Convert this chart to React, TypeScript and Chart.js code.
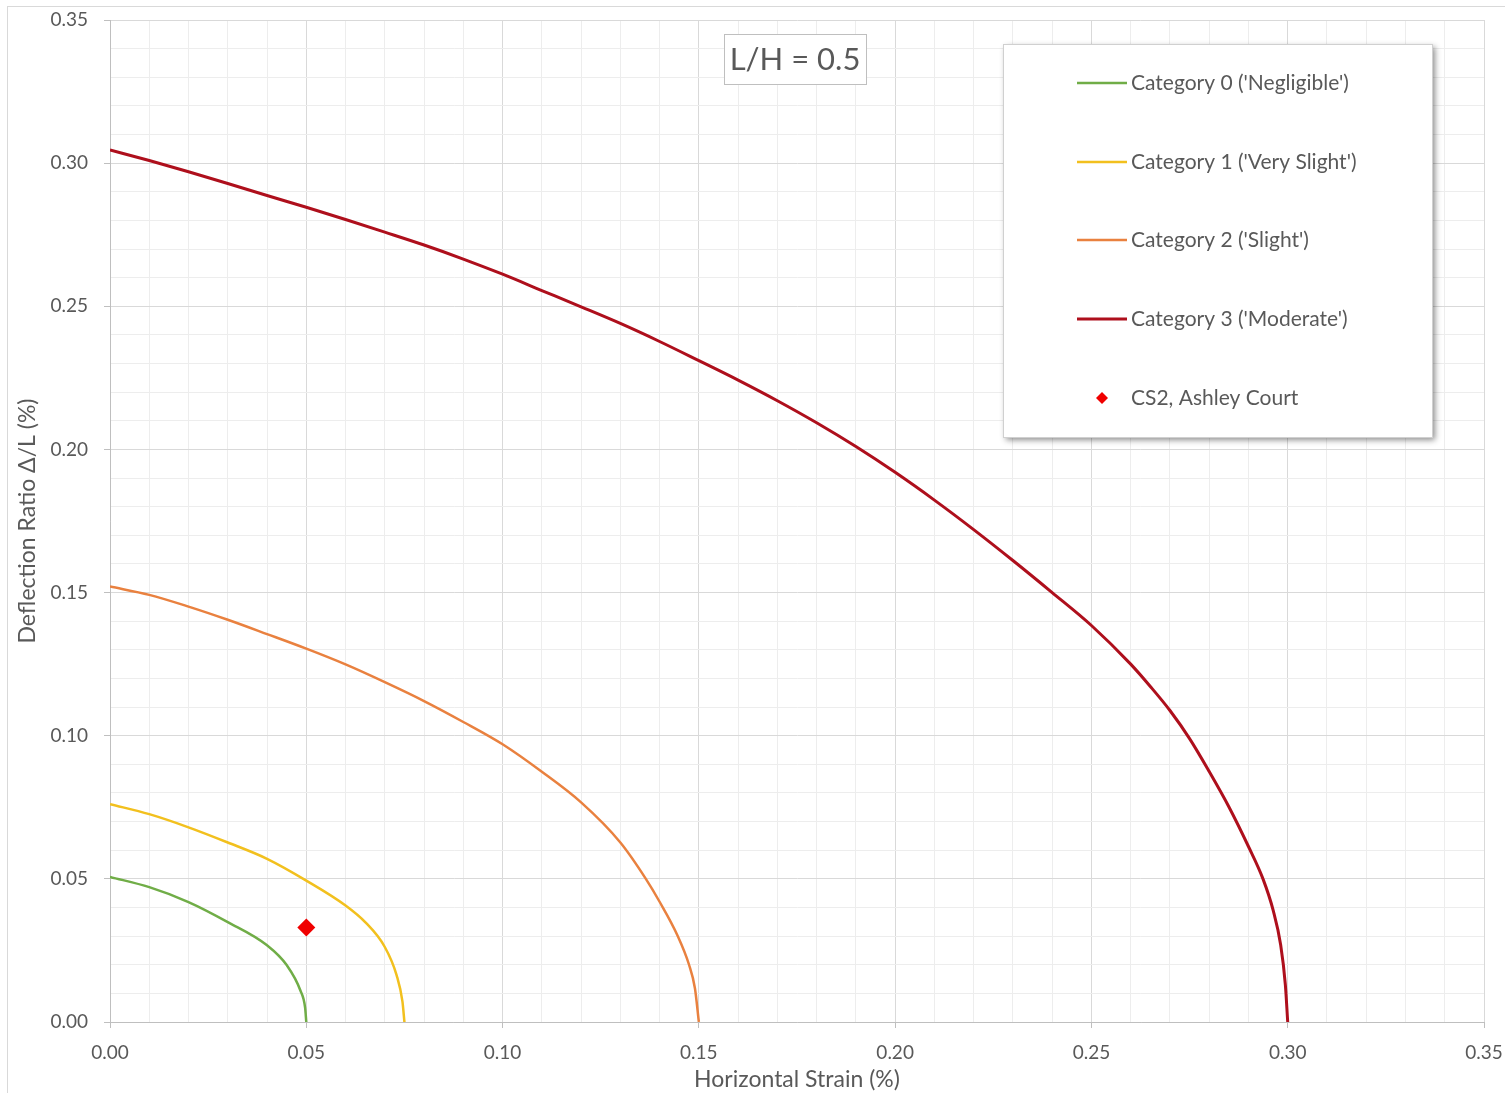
import React, { useEffect, useRef } from "react";
import { Chart, registerables } from "chart.js";

Chart.register(...registerables);

// ---- Data ----
const cat0X = [0, 0.01, 0.02, 0.03, 0.04, 0.045, 0.0485, 0.0497, 0.05];
const cat0Y = [0.0507, 0.0471, 0.0419, 0.0349, 0.0268, 0.0199, 0.011, 0.005, 0];

const cat1X = [0, 0.01, 0.02, 0.03, 0.04, 0.05, 0.06, 0.065, 0.07, 0.073, 0.0745, 0.075];
const cat1Y = [0.0761, 0.0726, 0.068, 0.0627, 0.057, 0.0494, 0.0407, 0.0349, 0.0262, 0.0164, 0.0071, 0];

const cat2X = [0, 0.01, 0.02, 0.03, 0.04, 0.05, 0.06, 0.07, 0.08, 0.09, 0.1, 0.11, 0.12, 0.13, 0.1365, 0.14, 0.1445, 0.1475, 0.149, 0.15];
const cat2Y = [0.1521, 0.1492, 0.1451, 0.1405, 0.1355, 0.1304, 0.1249, 0.1187, 0.1121, 0.1048, 0.097, 0.0874, 0.0767, 0.0627, 0.05, 0.042, 0.0304, 0.02, 0.0118, 0];

const cat3X = [0, 0.01, 0.02, 0.03, 0.04, 0.05, 0.06, 0.07, 0.08, 0.09, 0.1, 0.11, 0.12, 0.13, 0.14, 0.15, 0.16, 0.17, 0.18, 0.19, 0.2, 0.21, 0.22, 0.23, 0.24, 0.25, 0.26, 0.265, 0.27, 0.275, 0.28, 0.285, 0.29, 0.2937, 0.2963, 0.2982, 0.2994, 0.3];
const cat3Y = [0.3046, 0.3009, 0.297, 0.2929, 0.2887, 0.2846, 0.2803, 0.2759, 0.2714, 0.2665, 0.2612, 0.2555, 0.2498, 0.244, 0.2377, 0.231, 0.2242, 0.217, 0.2093, 0.201, 0.192, 0.1823, 0.172, 0.1612, 0.15, 0.1385, 0.125, 0.1172, 0.1088, 0.099, 0.0875, 0.0752, 0.0613, 0.05, 0.039, 0.027, 0.013, 0];

const siteX = [0.05];
const siteY = [0.033];

const seriesLabels = [
  "Category 0 ('Negligible')",
  "Category 1 ('Very Slight')",
  "Category 2 ('Slight')",
  "Category 3 ('Moderate')",
  "CS2, Ashley Court",
];
const seriesColors = ["#70AD47", "#F2C01E", "#E9813F", "#AE0F1C", "#F00000"];

const annotationText = "L/H = 0.5";
const xTitle = "Horizontal Strain (%)";
const yTitle = "Deflection Ratio \u0394/L (%)";
const axisMin = 0;
const axisMax = 0.35;
const majorStep = 0.05;
const minorStep = 0.01;

const FONT = "Lato, 'Open Sans', sans-serif";
const TEXT = "#595959";

const toPoints = (xs: number[], ys: number[]) => xs.map((x, i) => ({ x, y: ys[i] }));
const isMajor = (v: number) => Math.abs(v / majorStep - Math.round(v / majorStep)) < 1e-6;

export default function App() {
  const ref = useRef<HTMLCanvasElement | null>(null);

  useEffect(() => {
    if (!ref.current) return;

    const bgPlugin = {
      id: "bg",
      beforeDraw(chart: any) {
        const ctx = chart.ctx;
        ctx.save();
        ctx.fillStyle = "#ffffff";
        ctx.fillRect(0, 0, chart.width, chart.height);
        ctx.strokeStyle = "#D9D9D9";
        ctx.lineWidth = 1;
        ctx.strokeRect(7.5, 6.5, chart.width + 10, chart.height + 10);
        ctx.restore();
      },
    };

    const overlayPlugin = {
      id: "overlay",
      afterDraw(chart: any) {
        const ctx = chart.ctx;
        ctx.save();
        // annotation box
        ctx.fillStyle = "#ffffff";
        ctx.fillRect(724, 34, 142, 50);
        ctx.strokeStyle = "#BFBFBF";
        ctx.lineWidth = 1;
        ctx.strokeRect(724.5, 34.5, 142, 50);
        ctx.fillStyle = TEXT;
        ctx.font = `31px ${FONT}`;
        ctx.textAlign = "center";
        ctx.textBaseline = "middle";
        ctx.fillText(annotationText, 795, 60);

        // legend box with shadow
        const lx = 1003, ly = 44, lw = 429, lh = 393;
        ctx.save();
        ctx.shadowColor = "rgba(0,0,0,0.45)";
        ctx.shadowBlur = 6;
        ctx.shadowOffsetX = 3;
        ctx.shadowOffsetY = 3;
        ctx.fillStyle = "#ffffff";
        ctx.fillRect(lx, ly, lw, lh);
        ctx.restore();
        ctx.strokeStyle = "#D0D0D0";
        ctx.strokeRect(lx + 0.5, ly + 0.5, lw, lh);

        const rows = [83, 162, 240, 319, 398];
        chart.data.datasets.forEach((ds: any, i: number) => {
          const y = rows[i];
          if (ds.showLine) {
            ctx.strokeStyle = ds.borderColor;
            ctx.lineWidth = ds.borderWidth;
            ctx.beginPath();
            ctx.moveTo(1077, y);
            ctx.lineTo(1127, y);
            ctx.stroke();
          } else {
            ctx.fillStyle = ds.backgroundColor;
            ctx.beginPath();
            ctx.moveTo(1102, y - 6);
            ctx.lineTo(1108, y);
            ctx.lineTo(1102, y + 6);
            ctx.lineTo(1096, y);
            ctx.closePath();
            ctx.fill();
          }
          ctx.fillStyle = TEXT;
          ctx.font = `21px ${FONT}`;
          ctx.textAlign = "left";
          ctx.textBaseline = "middle";
          ctx.fillText(ds.label, 1131, y);
        });
        ctx.restore();
      },
    };

    const lineDs = (i: number, xs: number[], ys: number[], w: number) => ({
      label: seriesLabels[i],
      data: toPoints(xs, ys),
      showLine: true,
      borderColor: seriesColors[i],
      backgroundColor: seriesColors[i],
      borderWidth: w,
      pointRadius: 0,
      cubicInterpolationMode: "monotone",
    });

    const gridOpts = {
      color: (c: any) => (c.tick && isMajor(c.tick.value) ? "#D9D9D9" : "#EDEDED"),
      tickColor: (c: any) => (c.tick && isMajor(c.tick.value) ? "#BFBFBF" : "rgba(0,0,0,0)"),
      tickLength: 6,
      lineWidth: 1,
    };

    const chart = new Chart(ref.current, {
      type: "scatter",
      data: {
        datasets: [
          lineDs(0, cat0X, cat0Y, 2.5),
          lineDs(1, cat1X, cat1Y, 2.5),
          lineDs(2, cat2X, cat2Y, 2.5),
          lineDs(3, cat3X, cat3Y, 3),
          {
            label: seriesLabels[4],
            data: toPoints(siteX, siteY),
            showLine: false,
            pointStyle: "rectRot",
            pointRadius: 9,
            backgroundColor: seriesColors[4],
            borderColor: seriesColors[4],
            borderWidth: 0,
          },
        ] as any,
      },
      options: {
        animation: false,
        responsive: false,
        devicePixelRatio: 1,
        layout: { padding: { top: 20, right: 21, left: 0, bottom: 0 } },
        plugins: { legend: { display: false }, tooltip: { enabled: false } },
        scales: {
          x: {
            type: "linear",
            min: axisMin,
            max: axisMax,
            afterFit: (s: any) => {
              s.height = 71;
              s.paddingLeft = 0;
              s.paddingRight = 0;
            },
            border: { color: "#BFBFBF" },
            grid: gridOpts as any,
            ticks: {
              stepSize: minorStep,
              autoSkip: false,
              maxRotation: 0,
              padding: 13,
              color: TEXT,
              font: { family: FONT, size: 19 },
              callback: (v: any) => (isMajor(Number(v)) ? Number(v).toFixed(2) : ""),
            },
            title: {
              display: true,
              text: xTitle,
              color: TEXT,
              font: { family: FONT, size: 23 },
              padding: { top: 0, bottom: 0 },
            },
          },
          y: {
            type: "linear",
            min: axisMin,
            max: axisMax,
            afterFit: (s: any) => {
              s.width = 110;
              s.paddingTop = 0;
              s.paddingBottom = 0;
            },
            border: { color: "#BFBFBF" },
            grid: gridOpts as any,
            ticks: {
              stepSize: minorStep,
              autoSkip: false,
              padding: 16,
              color: TEXT,
              font: { family: FONT, size: 19 },
              callback: (v: any) => (isMajor(Number(v)) ? Number(v).toFixed(2) : ""),
            },
            title: {
              display: true,
              text: yTitle,
              color: TEXT,
              font: { family: FONT, size: 23 },
              padding: { top: 14, bottom: 0 },
            },
          },
        },
      },
      plugins: [bgPlugin, overlayPlugin],
    });

    return () => chart.destroy();
  }, []);

  return (
    <div style={{ position: "fixed", left: 0, top: 0, width: 1505, height: 1093, background: "#fff" }}>
      <canvas ref={ref} width={1505} height={1093} style={{ display: "block" }} />
    </div>
  );
}
